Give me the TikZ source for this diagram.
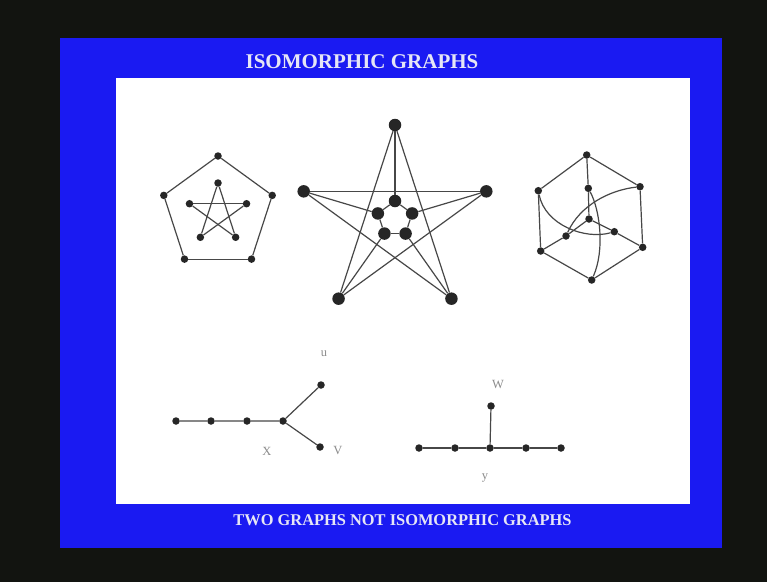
\documentclass[tikz,border=0pt]{standalone}
\usepackage{fontspec}
\setmainfont{Liberation Serif}
\usetikzlibrary{positioning,calc}
\definecolor{FrameBlack}{HTML}{121410}
\definecolor{SlideBlue}{HTML}{1A1AF2}
\definecolor{TitleWhite}{HTML}{E6E6F6}
\definecolor{InkGray}{HTML}{262626}
\definecolor{LabelGray}{HTML}{8C8C8C}

\begin{document}
\begin{tikzpicture}[x=1pt,y=-1pt,
  vtx/.style={circle,fill=InkGray,inner sep=0pt,minimum size=7.5pt},
  bigvtx/.style={vtx,minimum size=12.5pt},
  edge/.style={draw=InkGray!85,line width=1.2pt},
  lbl/.style={font=\fontsize{12.5}{12.5}\selectfont,text=LabelGray}]
  % slide frame
  \fill[FrameBlack] (0,0) rectangle (767,582);
  \fill[SlideBlue] (60,38) rectangle (722,548);
  \fill[white] (116,78) rectangle (690,504);
  \node[anchor=base,text=TitleWhite,font=\bfseries\fontsize{21}{21}\selectfont] (title) at (362,68.5) {ISOMORPHIC GRAPHS};
  \node[anchor=base,text=TitleWhite,font=\bfseries\fontsize{16.4}{16.4}\selectfont] (caption) at (402.5,525) {TWO GRAPHS NOT ISOMORPHIC GRAPHS};

  % pentagon with inner star
  \foreach \k in {0,...,4} {
    \node[vtx] (pa\k) at ($(218,213)+(-90+72*\k:57)$) {};
    \node[vtx] (pb\k) at ($(218,213)+(-90+72*\k:30)$) {};
  }
  \foreach \k in {0,...,4} {
    \pgfmathtruncatemacro{\nx}{mod(\k+1,5)}
    \pgfmathtruncatemacro{\sk}{mod(\k+2,5)}
    \draw[edge] (pa\k) -- (pa\nx);
    \draw[edge] (pb\k) -- (pb\sk);
  }

  % big star with inner pentagon
  \foreach \k in {0,...,4} {
    \node[bigvtx] (qa\k) at ($(395,221)+(-90+72*\k:96)$) {};
    \node[bigvtx] (qb\k) at ($(395,219)+(-90+72*\k:18)$) {};
  }
  \foreach \k in {0,...,4} {
    \pgfmathtruncatemacro{\nx}{mod(\k+1,5)}
    \pgfmathtruncatemacro{\sk}{mod(\k+2,5)}
    \draw[edge] (qa\k) -- (qa\sk);
    \draw[edge] (qa\k) -- (qb\k);
    \draw[edge] (qb\k) -- (qb\nx);
  }

  % hexagon drawing
  \node[vtx] (ht) at (586.7,155) {};
  \node[vtx] (hur) at (640,186.7) {};
  \node[vtx] (hlr) at (642.7,247.3) {};
  \node[vtx] (hb) at (591.7,280) {};
  \node[vtx] (hll) at (540.7,251) {};
  \node[vtx] (hul) at (538.3,190.7) {};
  \node[vtx] (iu) at (588.3,188.3) {};
  \node[vtx] (ic) at (589,219) {};
  \node[vtx] (ir) at (614.3,231.7) {};
  \node[vtx] (il) at (566,236) {};
  \draw[edge] (ht) -- (hur) -- (hlr) -- (hb) -- (hll) -- (hul) -- (ht);
  \draw[edge] (ht) -- (iu) -- (ic);
  \draw[edge] (il) -- (ic) -- (ir);
  \draw[edge] (ir) -- (hlr);
  \draw[edge] (il) -- (hll);
  \draw[edge] (hur) .. controls (610,190) and (580,205) .. (il);
  \draw[edge] (hul) .. controls (545,225) and (585,240) .. (ir);
  \draw[edge] (hb) .. controls (605,250) and (600,210) .. (iu);

  % first tree
  \node[vtx] (ta) at (176,421) {};
  \node[vtx] (tb) at (211,421) {};
  \node[vtx] (tc) at (247,421) {};
  \node[vtx] (tx) at (283,421) {};
  \node[vtx] (tu) at (321,385) {};
  \node[vtx] (tv) at (320,447) {};
  \draw[edge] (ta) -- (tb) -- (tc) -- (tx) -- (tu);
  \draw[edge] (tx) -- (tv);
  \node[lbl] at (324,354) {u};
  \node[lbl] at (267,451) {X};
  \node[lbl] at (338,450) {V};

  % second tree
  \node[vtx] (sa) at (419,448) {};
  \node[vtx] (sb) at (455,448) {};
  \node[vtx] (sy) at (490,448) {};
  \node[vtx] (sc) at (526,448) {};
  \node[vtx] (sd) at (561,448) {};
  \node[vtx] (sw) at (491,406) {};
  \draw[edge] (sa) -- (sb) -- (sy) -- (sc) -- (sd);
  \draw[edge] (sy) -- (sw);
  \node[lbl] at (498,384) {W};
  \node[lbl] at (485,478) {y};
\end{tikzpicture}
\end{document}
